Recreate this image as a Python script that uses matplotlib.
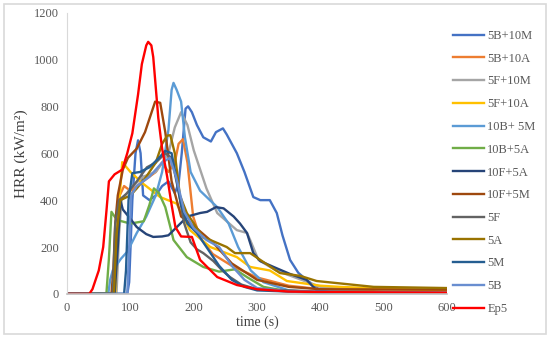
import numpy as np
import matplotlib
matplotlib.use('Agg')
import matplotlib.pyplot as plt
from matplotlib.patches import Rectangle


# series data (time in s, HRR in kW/m2)
t_5b10m = [0, 95, 98, 103, 108, 112, 116, 120, 130, 140, 150, 160, 170, 176, 181, 187, 191, 197, 205, 215,
           227, 235, 246, 252, 268, 280, 294, 305, 320, 331, 340, 352, 365, 378, 400, 450, 600]
h_5b10m = [0, 0, 50, 400, 600, 655, 600, 420, 400, 420, 460, 480, 430, 470, 600, 790, 800, 775, 720, 668,
           650, 690, 706, 680, 600, 520, 413, 400, 400, 345, 250, 145, 90, 60, 15, 5, 3]

t_5b10a = [0, 76, 79, 83, 90, 100, 120, 140, 150, 160, 170, 176, 183, 190, 199, 210, 230, 260, 300, 350, 400, 500, 600]
h_5b10a = [0, 0, 150, 420, 460, 440, 480, 520, 560, 520, 560, 640, 660, 560, 330, 240, 170, 120, 70, 35, 20, 10, 8]

t_5f10m = [0, 78, 82, 86, 100, 120, 140, 160, 170, 180, 190, 200, 220, 237, 268, 284, 289, 302, 330, 350, 400, 500, 600]
h_5f10m = [0, 0, 250, 400, 450, 500, 520, 600, 710, 775, 720, 612, 450, 345, 272, 260, 230, 145, 100, 80, 30, 20, 15]

t_5f10a = [0, 76, 80, 87, 100, 120, 147, 173, 194, 226, 268, 289, 320, 347, 400, 431, 500, 600]
h_5f10a = [0, 0, 300, 562, 520, 470, 413, 385, 272, 200, 157, 115, 100, 55, 35, 30, 22, 15]

t_10b5m = [0, 65, 68, 72, 85, 95, 110, 125, 140, 150, 160, 165, 168, 173, 180, 186, 195, 210, 237, 255,
           270, 290, 310, 350, 400, 600]
h_10b5m = [0, 0, 60, 100, 150, 180, 260, 330, 420, 520, 700, 870, 900, 870, 820, 668, 520, 440, 370, 300,
           200, 100, 50, 15, 5, 3]

t_10b5a = [0, 62, 66, 70, 75, 79, 100, 121, 130, 137, 145, 155, 163, 168, 189, 215, 240, 265, 285, 310, 350, 400, 600]
h_10b5a = [0, 0, 150, 350, 330, 315, 300, 310, 380, 450, 430, 370, 285, 230, 157, 115, 95, 105, 70, 30, 10, 5, 3]

t_10f5a = [0, 75, 80, 84, 88, 100, 110, 125, 136, 150, 160, 175, 190, 210, 221, 235, 247, 263, 273, 284,
           294, 305, 326, 352, 378, 394, 420, 600]
h_10f5a = [0, 0, 200, 400, 360, 320, 285, 255, 243, 245, 250, 290, 330, 345, 350, 370, 365, 330, 300, 260,
           174, 140, 115, 85, 60, 15, 5, 3]

t_10f5m = [0, 70, 73, 76, 80, 88, 96, 110, 123, 139, 147, 155, 165, 180, 200, 230, 260, 300, 350, 400, 600]
h_10f5m = [0, 0, 100, 300, 420, 530, 580, 620, 690, 820, 815, 690, 480, 330, 290, 220, 130, 60, 30, 20, 18]

t_5f = [0, 72, 76, 82, 95, 110, 126, 140, 155, 165, 175, 185, 195, 205, 215, 231, 245, 257, 275, 300, 400, 600]
h_5f = [0, 0, 300, 400, 430, 480, 540, 560, 600, 580, 450, 300, 220, 190, 174, 140, 100, 72, 40, 20, 10, 5]

t_5a = [0, 74, 78, 84, 100, 110, 125, 140, 150, 158, 163, 170, 178, 189, 215, 226, 252, 265, 289, 305,
        336, 368, 394, 484, 600]
h_5a = [0, 0, 250, 400, 420, 450, 500, 560, 640, 675, 677, 600, 420, 345, 240, 230, 200, 174, 174, 145,
        89, 77, 55, 30, 25]

t_5m = [0, 90, 93, 97, 103, 115, 130, 145, 155, 165, 172, 180, 190, 205, 220, 240, 260, 280, 300, 400, 600]
h_5m = [0, 0, 100, 400, 515, 520, 540, 580, 610, 600, 500, 380, 300, 260, 200, 120, 60, 30, 15, 5, 3]

t_5b = [0, 95, 98, 101, 110, 130, 150, 162, 172, 185, 200, 220, 240, 260, 280, 300, 350, 600]
h_5b = [0, 0, 200, 420, 460, 500, 560, 580, 500, 350, 280, 230, 200, 120, 60, 25, 10, 5]

t_ep5 = [0, 35, 40, 50, 57, 62, 66, 75, 87, 95, 103, 112, 118, 125, 128, 133, 136, 144, 150, 158, 165,
         171, 180, 197, 210, 237, 268, 300, 350, 400, 600]
h_ep5 = [0, 0, 20, 100, 200, 350, 480, 510, 530, 600, 685, 850, 980, 1060, 1075, 1060, 1010, 750, 620, 500, 380,
         285, 245, 243, 145, 72, 38, 20, 10, 8, 5]

labels = ['5B+10M', '5B+10A', '5F+10M', '5F+10A', '10B+ 5M', '10B+5A', '10F+5A',
          '10F+5M', '5F', '5A', '5M', '5B', 'Ep5']
colors = ['#4472C4', '#ED7D31', '#A5A5A5', '#FFC000', '#5B9BD5', '#70AD47', '#264478',
          '#9E480E', '#636363', '#997300', '#255E91', '#698ED0', '#FF0000']
series = [(t_5b10m, h_5b10m), (t_5b10a, h_5b10a), (t_5f10m, h_5f10m), (t_5f10a, h_5f10a),
          (t_10b5m, h_10b5m), (t_10b5a, h_10b5a), (t_10f5a, h_10f5a), (t_10f5m, h_10f5m),
          (t_5f, h_5f), (t_5a, h_5a), (t_5m, h_5m), (t_5b, h_5b), (t_ep5, h_ep5)]

plt.rcParams['font.family'] = ['Liberation Serif', 'DejaVu Serif']

fig = plt.figure(figsize=(5.5, 3.39), dpi=100)
fig.patches.append(Rectangle((4 / 550, 5 / 339), 542 / 550, 330 / 339, transform=fig.transFigure,
                             fill=False, edgecolor='#D9D9D9', linewidth=1.2))
ax = fig.add_axes([0.122, 0.133, 0.691, 0.830])

for (t, h), lab, c in zip(series, labels, colors):
    ax.plot(t, h, color=c, lw=1.7, label=lab)

ax.set_xlim(0, 600)
ax.set_ylim(0, 1200)
ax.set_xticks(np.arange(0, 601, 100))
ax.set_yticks(np.arange(0, 1201, 200))
ax.tick_params(length=0, labelsize=9, colors='#595959', pad=6)
for s in ['top', 'right']:
    ax.spines[s].set_visible(False)
ax.spines['left'].set_color('#D9D9D9')
ax.spines['bottom'].set_color('#BFBFBF')
ax.spines['bottom'].set_linewidth(1.2)
ax.set_xlabel('time (s)', fontsize=10, color='#404040', labelpad=1)
ax.set_ylabel('HRR (kW/m²)', fontsize=11, color='#404040', labelpad=4)

fig.legend(loc='upper left', bbox_to_anchor=(448 / 550, 1 - 25 / 339), frameon=False,
           fontsize=9, labelspacing=0.86, handlelength=2.5, handletextpad=0.25,
           borderaxespad=0, labelcolor='#595959')

fig.savefig('out.png', dpi=100)
